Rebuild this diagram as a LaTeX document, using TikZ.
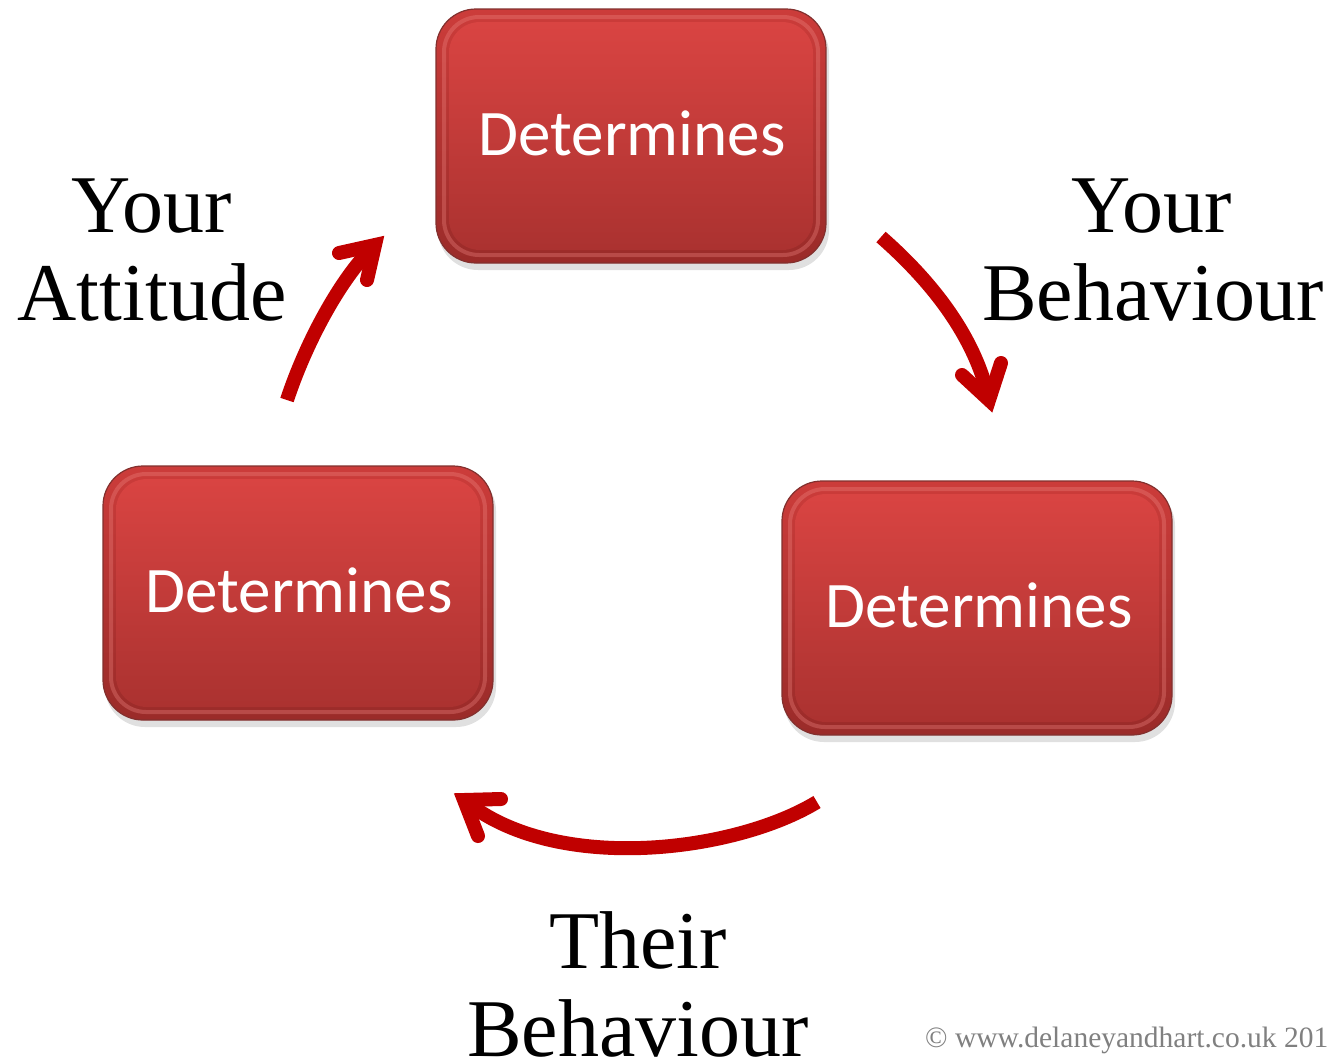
\documentclass[tikz,border=0pt]{standalone}
\usepackage{fontspec}
\setmainfont{Liberation Serif}
\newfontfamily\boxfont{Carlito}
\definecolor{arrowred}{HTML}{C00000}
\definecolor{rimtop}{HTML}{CC3C3A}
\definecolor{rimbot}{HTML}{9A2B29}
\definecolor{rimline}{HTML}{82302E}
\definecolor{bevel}{HTML}{EE8480}
\definecolor{facetop}{HTML}{D94442}
\definecolor{facebot}{HTML}{AB3230}
\definecolor{notegray}{HTML}{808080}

% bevelled red box: name, centre x, centre y, text centre x, text baseline y
\newcommand\detbox[5]{%
  \fill[black, opacity=.12, rounded corners=40pt] (#2-193,#3-122) rectangle (#2+198,#3+134);
  \node[rimbox] (#1) at (#2,#3) {};
  \draw[rounded corners=35pt, line width=4pt, draw=bevel, opacity=.35] (#2-187,#3-119) rectangle (#2+187,#3+119);
  \shade[rounded corners=31pt, top color=facetop, bottom color=facebot] (#2-182,#3-114) rectangle (#2+182,#3+114);
  \node[boxtext] (#1-label) at (#4,#5) {Determines};
}

\begin{document}
\begin{tikzpicture}[x=1pt,y=-1pt,
  rimbox/.style={rectangle, rounded corners=40pt, minimum width=390pt, minimum height=254pt,
    top color=rimtop, bottom color=rimbot, draw=rimline, line width=1.2pt, inner sep=0},
  boxtext/.style={anchor=base, font=\boxfont\fontsize{65}{70}\selectfont, text=white, inner sep=0},
  lbl/.style={anchor=base, font=\fontsize{82}{88}\selectfont, inner sep=0},
  shaft/.style={draw=arrowred, line width=14pt, line cap=butt},
  barb/.style={draw=arrowred, line width=14pt, line cap=round, line join=miter}]
\useasboundingbox (0,0) rectangle (1327,1061);
\clip (0,0) rectangle (1327,1061);
\fill[white] (0,0) rectangle (1327,1061);

% the three boxes
\detbox{top}{631}{136}{632}{155}
\detbox{left}{298}{593}{299}{612}
\detbox{right}{977}{608}{979}{627}

% stage labels
\node[lbl] (att1) at (152,232) {Your};
\node[lbl] (att2) at (152,320) {Attitude};
\node[lbl] (yb1) at (1152,232) {Your};
\node[lbl] (yb2) at (1153,320) {Behaviour};
\node[lbl] (tb1) at (638,968) {Their};
\node[lbl] (tb2) at (638,1056) {Behaviour};

% curved arrows between the boxes
\coordinate (a1s) at (287,400);
\coordinate (a1t) at (375,245);
\draw[shaft] (a1s) .. controls (305,345) and (340,278) .. (a1t);
\draw[barb] (339,253) -- (a1t) -- (367,280);

\coordinate (a2s) at (881,237);
\coordinate (a2t) at (989,400);
\draw[shaft] (a2s) .. controls (930,280) and (975,335) .. (a2t);
\draw[barb] (962,375) -- (a2t) -- (1001,363);

\coordinate (a3s) at (817,802);
\coordinate (a3t) at (464,800);
\draw[shaft] (a3s) .. controls (735,852) and (555,875) .. (a3t);
\draw[barb] (501,799) -- (a3t) -- (478,836);

% copyright note
\node[anchor=base west, inner sep=0, text=notegray, font=\fontsize{29.5}{31}\selectfont] (note) at (925,1047) {\textcopyright\ www.delaneyandhart.co.uk 2010};
\end{tikzpicture}
\end{document}
